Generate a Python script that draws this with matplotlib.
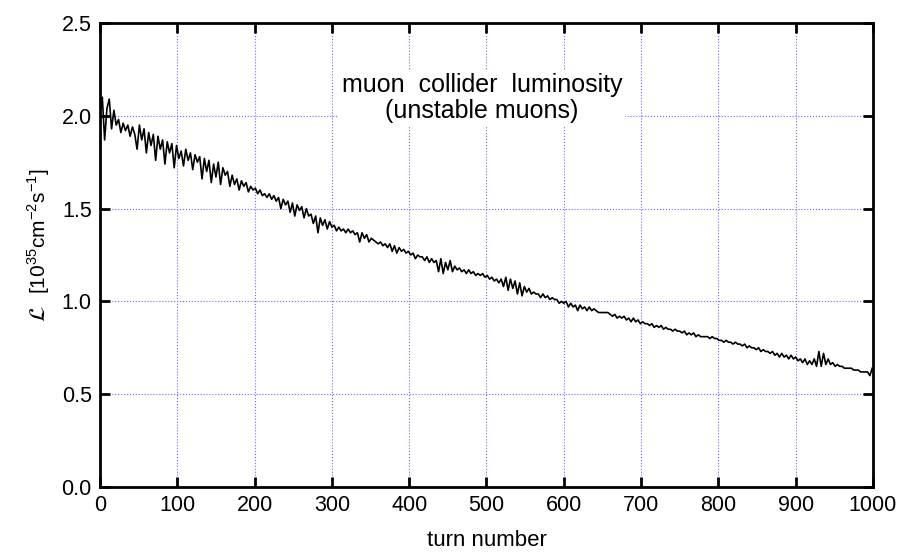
import numpy as np
import matplotlib
matplotlib.use('Agg')
import matplotlib.pyplot as plt

plt.rcParams['font.family'] = ['Liberation Sans', 'DejaVu Sans']
plt.rcParams['mathtext.fontset'] = 'custom'
plt.rcParams['mathtext.rm'] = 'Liberation Sans'

# luminosity, one value every 3 turns (0..999)
turn_step = 3
lum = [
    2.01, 2.10, 1.87, 2.04, 2.09, 1.93, 2.03, 1.95, 1.98, 1.91, 1.96, 1.92, 1.95, 1.89, 1.94, 1.90, 1.82, 1.95, 1.87, 1.93, 1.80, 1.91, 1.84, 1.90, 1.76,
    1.89, 1.82, 1.87, 1.74, 1.86, 1.80, 1.85, 1.72, 1.84, 1.77, 1.81, 1.73, 1.82, 1.76, 1.80, 1.71, 1.79, 1.75, 1.78, 1.66, 1.77, 1.70, 1.76, 1.64, 1.74,
    1.67, 1.75, 1.63, 1.72, 1.68, 1.70, 1.62, 1.68, 1.63, 1.66, 1.60, 1.65, 1.62, 1.64, 1.59, 1.62, 1.60, 1.61, 1.58, 1.60, 1.57, 1.58, 1.56, 1.58, 1.55,
    1.57, 1.54, 1.56, 1.50, 1.55, 1.52, 1.54, 1.48, 1.53, 1.46, 1.52, 1.49, 1.51, 1.45, 1.50, 1.46, 1.47, 1.42, 1.46, 1.37, 1.45, 1.41, 1.44, 1.39, 1.43,
    1.40, 1.41, 1.38, 1.40, 1.38, 1.39, 1.37, 1.39, 1.37, 1.38, 1.36, 1.37, 1.32, 1.37, 1.34, 1.36, 1.32, 1.34, 1.33, 1.32, 1.31, 1.32, 1.30, 1.31, 1.29,
    1.31, 1.27, 1.30, 1.26, 1.29, 1.27, 1.28, 1.26, 1.27, 1.25, 1.26, 1.23, 1.25, 1.24, 1.24, 1.22, 1.24, 1.21, 1.23, 1.21, 1.22, 1.16, 1.23, 1.15, 1.21,
    1.17, 1.22, 1.16, 1.19, 1.17, 1.18, 1.16, 1.17, 1.15, 1.17, 1.15, 1.16, 1.14, 1.15, 1.14, 1.15, 1.13, 1.14, 1.12, 1.13, 1.11, 1.12, 1.10, 1.12, 1.08,
    1.13, 1.06, 1.12, 1.07, 1.11, 1.04, 1.10, 1.03, 1.08, 1.05, 1.07, 1.04, 1.05, 1.04, 1.04, 1.02, 1.04, 1.02, 1.03, 1.01, 1.02, 1.01, 1.01, 0.99, 1.00,
    0.99, 1.00, 0.97, 0.99, 0.97, 0.98, 0.95, 0.98, 0.96, 0.97, 0.95, 0.97, 0.95, 0.96, 0.95, 0.94, 0.94, 0.94, 0.94, 0.94, 0.93, 0.92, 0.93, 0.91, 0.92,
    0.91, 0.92, 0.90, 0.91, 0.89, 0.91, 0.89, 0.90, 0.88, 0.89, 0.88, 0.88, 0.87, 0.88, 0.86, 0.87, 0.86, 0.87, 0.85, 0.86, 0.85, 0.85, 0.84, 0.85, 0.84,
    0.84, 0.83, 0.84, 0.82, 0.83, 0.82, 0.83, 0.81, 0.82, 0.81, 0.81, 0.81, 0.81, 0.80, 0.81, 0.80, 0.80, 0.79, 0.79, 0.78, 0.79, 0.78, 0.78, 0.77, 0.78,
    0.77, 0.77, 0.76, 0.77, 0.75, 0.76, 0.75, 0.75, 0.74, 0.75, 0.73, 0.74, 0.73, 0.73, 0.72, 0.73, 0.71, 0.72, 0.70, 0.72, 0.70, 0.71, 0.69, 0.71, 0.69,
    0.70, 0.68, 0.69, 0.67, 0.69, 0.66, 0.68, 0.66, 0.69, 0.65, 0.73, 0.65, 0.72, 0.66, 0.69, 0.66, 0.67, 0.65, 0.66, 0.65, 0.65, 0.64, 0.64, 0.64, 0.64,
    0.63, 0.63, 0.63, 0.62, 0.62, 0.62, 0.62, 0.60, 0.64,
]
turns = np.arange(len(lum)) * turn_step

x_ticks = list(range(0, 1001, 100))
y_ticks = [0.0, 0.5, 1.0, 1.5, 2.0, 2.5]
title_txt = 'muon  collider  luminosity\n(unstable muons)'

fig = plt.figure(figsize=(9.04, 5.57), dpi=100)
ax = fig.add_axes([0.1106, 0.1257, 0.8551, 0.8330])

ax.plot(turns, lum, color='black', lw=1.2, zorder=3)

ax.set_xlim(0, 1000)
ax.set_ylim(0, 2.5)
ax.set_xticks(x_ticks)
ax.set_yticks(y_ticks)
ax.set_yticklabels(['%.1f' % v for v in y_ticks])
ax.grid(True, color='#6a6aff', ls=':', lw=0.8)

ax.tick_params(direction='in', length=7, width=2, labelsize=15.5,
               top=True, right=True, pad=6)
for s in ax.spines.values():
    s.set_linewidth(2)

ax.set_xlabel('turn number', fontsize=16, labelpad=10)

# y label: script L in STIX, the rest in the sans font
fig.text(0.043, 0.585, '[10$^{35}$cm$^{-2}$s$^{-1}$]', rotation=90,
         ha='center', va='center', fontsize=15)
fig.text(0.043, 0.437, r'$\mathcal{L}$', rotation=90, ha='center',
         va='center', fontsize=16, math_fontfamily='stix')

ax.text(494, 2.095, title_txt, ha='center', va='center', fontsize=18,
        linespacing=1.1, zorder=4,
        bbox=dict(facecolor='white', edgecolor='none', pad=2))

fig.savefig('out.png', dpi=100)
